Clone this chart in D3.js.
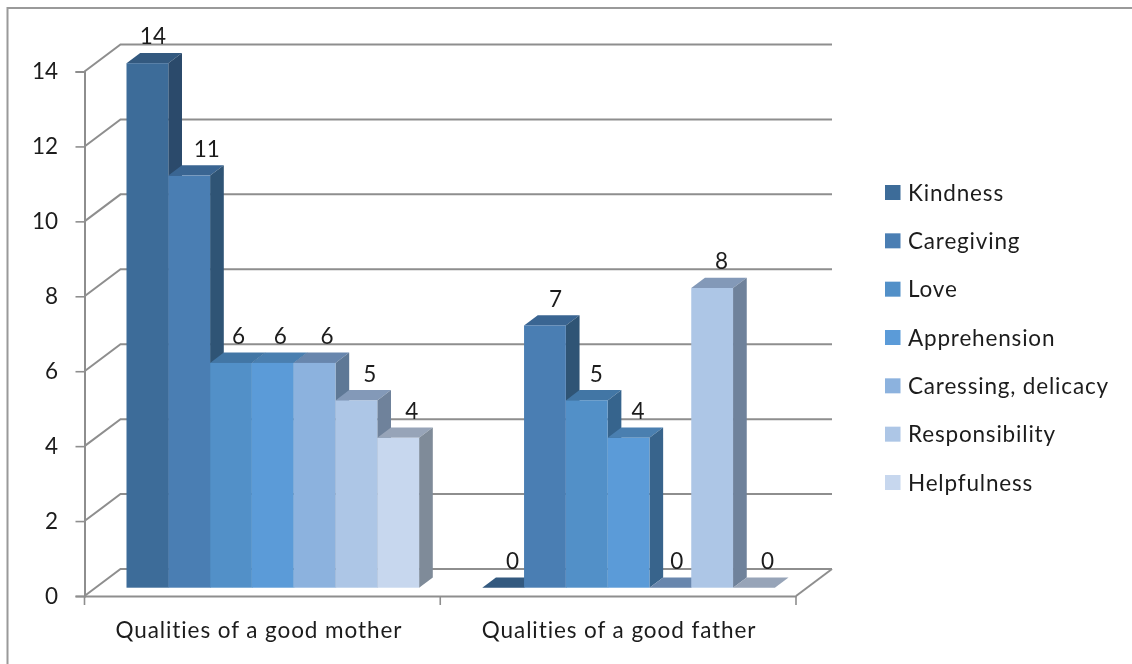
<!DOCTYPE html>
<html><head><meta charset="utf-8">
<style>
html,body{margin:0;padding:0;background:#fff;overflow:hidden}
svg{display:block;filter:blur(0.65px)}
text{font-family:Lato,"Noto Sans",sans-serif;fill:#1c1c1c}
</style>
<script src="https://cdn.jsdelivr.net/npm/d3@7/dist/d3.min.js"></script>
</head><body><svg id="c" width="1132" height="664"></svg>
<script>
const categories = ["Qualities of a good mother", "Qualities of a good father"];
const seriesNames = ["Kindness", "Caregiving", "Love", "Apprehension", "Caressing, delicacy", "Responsibility", "Helpfulness"];
const kindness = [14, 0];
const caregiving = [11, 7];
const love = [6, 5];
const apprehension = [6, 4];
const caressing = [6, 0];
const responsibility = [5, 8];
const helpfulness = [4, 0];
const yTicks = [0, 2, 4, 6, 8, 10, 12, 14];

const allValues = [kindness, caregiving, love, apprehension, caressing, responsibility, helpfulness];
const frontColors = ["#3d6c99", "#4a7eb3", "#5290c8", "#5b9bd8", "#8cb2de", "#adc6e6", "#c7d7ee"];
const sideColors  = ["#2b4a6b", "#2f5475", "#36648d", "#38648c", "#5e7896", "#6f829b", "#7f8b99"];
const topColors   = ["#33597f", "#3a6592", "#4276a5", "#4a7fb0", "#6886ad", "#8399b8", "#97a4b8"];
// small label shifts per category/series, matching the hand-placed labels of the original
const labelShift = [[-4, 8, -2, -2, 3, 4, 4], [0, 1, 0, 0, -3, 0, 4]];

const svg = d3.select("#c");
const frontLeft = 84.5, frontRight = 796, wallDx = 36, wallDy = -27;
const barDx = 13.7, barDy = -10.3, barLift = 8.3, barInset = 42, barW = 41.8;

const y = d3.scaleLinear().domain([0, 14]).range([596, 71.5]);
const x0 = d3.scaleBand().domain(categories).range([frontLeft, frontRight]);
const x1 = d3.scaleBand().domain(seriesNames).range([barInset, barInset + barW * seriesNames.length]);

// chart frame
svg.append("path").attr("d", "M7.5,664V8H1132").attr("fill", "none").attr("stroke", "#9a9a9a").attr("stroke-width", 2);

// gridlines on the back wall and side wall
const gridColor = "#8e8e8e";
const grid = svg.append("g").attr("fill", "none").attr("stroke", gridColor).attr("stroke-width", 2);
yTicks.forEach(v => {
  const yy = y(v);
  grid.append("path").attr("d", `M${frontLeft},${yy}L${frontLeft + wallDx},${yy + wallDy}H${frontRight + wallDx}`);
});
grid.append("path").attr("d", `M${frontRight},${y(0)}L${frontRight + wallDx},${y(0) + wallDy}`);

// axes
const yAxis = d3.axisLeft(y).tickValues(yTicks).tickSize(9).tickPadding(17.5);
const gy = svg.append("g").attr("transform", `translate(${frontLeft},0)`).call(yAxis);
const xAxis = d3.axisBottom(x0).tickSize(0).tickPadding(42);
const gx = svg.append("g").attr("transform", `translate(0,${y(0)})`).call(xAxis);
[gy, gx].forEach(g => {
  g.selectAll("path.domain").attr("stroke", gridColor).attr("stroke-width", 2);
  g.selectAll("line").attr("stroke", gridColor).attr("stroke-width", 1.6);
  g.selectAll("text").attr("font-size", 22.5).style("font-family", 'Lato,"Noto Sans",sans-serif').attr("fill", "#1c1c1c");
});
gx.selectAll("text").attr("dy", "0").attr("dx", (d, i) => i === 0 ? -3.5 : 1).style("letter-spacing", "0.92px");
const edgeTicks = [frontLeft, x0(categories[1]), frontRight];
svg.append("g").selectAll("line").data(edgeTicks).join("line")
  .attr("x1", d => d).attr("x2", d => d).attr("y1", y(0)).attr("y2", y(0) + 9)
  .attr("stroke", gridColor).attr("stroke-width", 1.6);

// bars
const bars = svg.append("g");
categories.forEach((cat, ci) => {
  seriesNames.forEach((s, si) => {
    const v = allValues[si][ci];
    const L = x0(cat) + x1(s), R = L + x1.bandwidth();
    const B = y(0) - barLift, T = y(v) - barLift;
    bars.append("polygon").attr("fill", topColors[si])
      .attr("points", [[L, T], [L + barDx, T + barDy], [R + barDx, T + barDy], [R, T]].join(" "));
    if (v > 0) {
      bars.append("polygon").attr("fill", sideColors[si])
        .attr("points", [[R, T], [R + barDx, T + barDy], [R + barDx, B + barDy], [R, B]].join(" "));
      bars.append("rect").attr("x", L).attr("y", T).attr("width", R - L).attr("height", B - T)
        .attr("fill", frontColors[si]);
    }
  });
});

// data labels
const labels = svg.append("g").attr("font-size", 22.5).attr("text-anchor", "middle");
categories.forEach((cat, ci) => {
  seriesNames.forEach((s, si) => {
    const v = allValues[si][ci];
    labels.append("text")
      .attr("x", x0(cat) + x1(s) + x1.bandwidth() / 2 + 9.5 + labelShift[ci][si])
      .attr("y", y(v) - barLift + barDy - 8.5)
      .text(v);
  });
});

// legend
const legendY = d3.scalePoint().domain(seriesNames).range([192.5, 482.5]);
const legend = svg.append("g").selectAll("g").data(seriesNames).join("g")
  .attr("transform", d => `translate(885,${legendY(d)})`);
legend.append("rect").attr("x", 0).attr("y", -7.5).attr("width", 15.5).attr("height", 15)
  .attr("fill", (d, i) => frontColors[i]);
legend.append("text").attr("x", 23).attr("y", 8).attr("font-size", 22.5)
  .style("letter-spacing", "0.82px").text(d => d);
</script></body></html>
